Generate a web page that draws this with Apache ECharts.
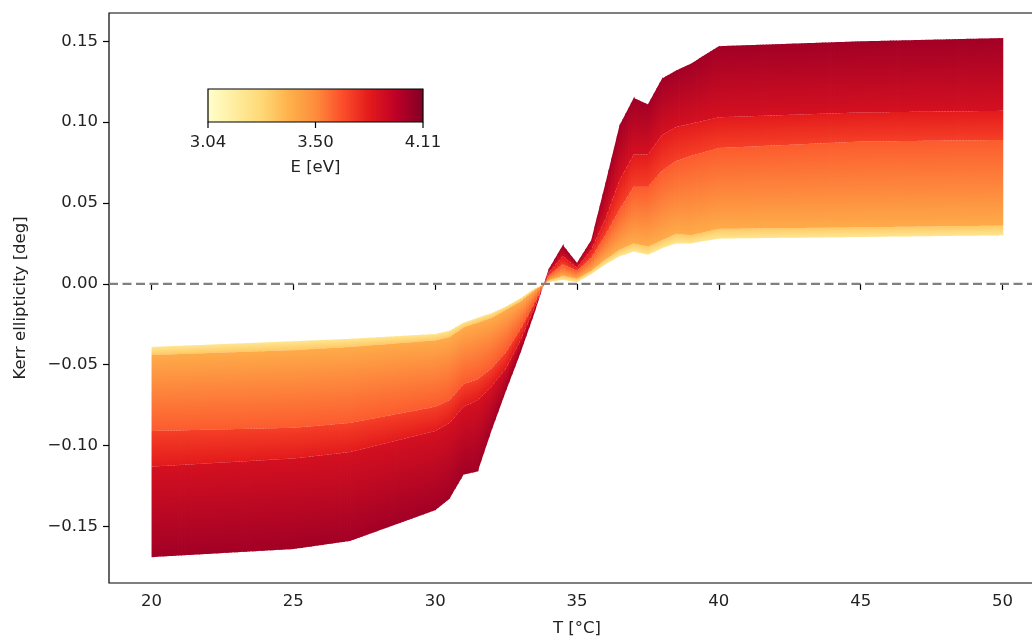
<!DOCTYPE html>
<html>
<head>
<meta charset="utf-8">
<script src="https://cdn.jsdelivr.net/npm/echarts@6/dist/echarts.min.js"></script>
<style>
  html, body { margin: 0; padding: 0; background: #fff; }
  #main { width: 1032px; height: 640px; }
</style>
</head>
<body>
<div id="main"></div>
<script>
// temperatures [°C]
var temps = [20, 25, 27, 30, 30.5, 31, 31.5, 32, 32.5, 33, 33.5, 34, 34.5, 35, 35.5, 36, 36.5, 37, 37.5, 38, 38.5, 39, 40, 45, 50];

// Kerr ellipticity [deg], band edges from low energy (yellow) to high energy (dark red)
var edgeLow    = [-0.039, -0.0355, -0.034, -0.031, -0.029, -0.024, -0.021, -0.018, -0.014, -0.009, -0.003, 0.001, 0.0025, 0.001, 0.006, 0.012, 0.017, 0.020, 0.018, 0.022, 0.025, 0.025, 0.028, 0.029, 0.030];
var edgeYellow = [-0.044, -0.041, -0.039, -0.035, -0.033, -0.027, -0.024, -0.021, -0.016, -0.011, -0.004, 0.002, 0.005, 0.003, 0.008, 0.015, 0.021, 0.025, 0.023, 0.027, 0.031, 0.030, 0.034, 0.035, 0.036];
var edgeOrange = [-0.091, -0.089, -0.086, -0.076, -0.072, -0.062, -0.059, -0.052, -0.042, -0.028, -0.012, 0.005, 0.012, 0.008, 0.016, 0.030, 0.046, 0.060, 0.060, 0.070, 0.076, 0.079, 0.084, 0.088, 0.089];
var edgeRed    = [-0.113, -0.108, -0.104, -0.091, -0.086, -0.076, -0.072, -0.063, -0.052, -0.035, -0.015, 0.007, 0.017, 0.010, 0.021, 0.040, 0.064, 0.080, 0.080, 0.092, 0.097, 0.099, 0.103, 0.106, 0.107];
var edgeHigh   = [-0.169, -0.164, -0.159, -0.140, -0.133, -0.118, -0.116, -0.090, -0.066, -0.043, -0.018, 0.009, 0.024, 0.013, 0.027, 0.062, 0.098, 0.115, 0.111, 0.127, 0.132, 0.136, 0.147, 0.150, 0.152];

var xTicks = [20, 25, 30, 35, 40, 45, 50];
var yTicks = [-0.15, -0.10, -0.05, 0, 0.05, 0.10, 0.15];
var cbarLabels = ['3.04', '3.50', '4.11'];

// YlOrRd colormap
var ylorrd = ['#ffffcc', '#ffeda0', '#fed976', '#feb24c', '#fd8d3c', '#fc4e2a', '#e31a1c', '#bd0026', '#800026'];
function cmap(t) {
    var n = ylorrd.length - 1;
    var f = Math.max(0, Math.min(1, t)) * n;
    var i = Math.min(Math.floor(f), n - 1);
    var u = f - i;
    var a = ylorrd[i], b = ylorrd[i + 1];
    var c = [1, 3, 5].map(function (k) {
        var va = parseInt(a.substr(k, 2), 16), vb = parseInt(b.substr(k, 2), 16);
        return Math.round(va + (vb - va) * u);
    });
    return 'rgb(' + c.join(',') + ')';
}

var edges = [edgeLow, edgeYellow, edgeOrange, edgeRed, edgeHigh];
// colormap position at lower / upper edge of each band
var bandColors = [[0.17, 0.30], [0.40, 0.60], [0.66, 0.75], [0.80, 0.93]];

// one item per band segment: [t0, t1, lo0, lo1, hi0, hi1, band]
var segments = [];
for (var b = 0; b < edges.length - 1; b++) {
    for (var i = 0; i < temps.length - 1; i++) {
        segments.push([temps[i], temps[i + 1], edges[b][i], edges[b][i + 1], edges[b + 1][i], edges[b + 1][i + 1], b]);
    }
}

var font = 'DejaVu Sans';
var fs = 16.5;

function lerp(p, q, f) {
    return [p[0] + (q[0] - p[0]) * f, p[1] + (q[1] - p[1]) * f];
}

var myChart = echarts.init(document.getElementById('main'));
myChart.setOption({
    animation: false,
    backgroundColor: '#fff',
    grid: {
        left: 109, top: 13, right: -13, bottom: 57,
        show: true, borderColor: '#000', borderWidth: 1.2,
        outerBoundsMode: 'none'
    },
    xAxis: {
        type: 'value', min: 18.5, max: 51.5,
        splitLine: { show: false },
        axisLine: { show: false },
        axisTick: { show: true, length: 6, lineStyle: { color: '#000', width: 1.2 }, customValues: xTicks },
        axisLabel: { color: '#222', fontFamily: font, fontSize: fs, margin: 10, customValues: xTicks }
    },
    yAxis: {
        type: 'value', min: -0.185, max: 0.1675,
        splitLine: { show: false },
        axisLine: { show: false },
        axisTick: { show: true, length: 6, lineStyle: { color: '#000', width: 1.2 }, customValues: yTicks },
        axisLabel: {
            color: '#222', fontFamily: font, fontSize: fs, margin: 11, customValues: yTicks,
            formatter: function (v) { return (v < -1e-9 ? '\u2212' : '') + Math.abs(v).toFixed(2); }
        }
    },
    series: [
        {
            type: 'custom',
            data: segments,
            encode: { x: [0, 1], y: [2, 3, 4, 5] },
            renderItem: function (params, api) {
                var lo0 = api.coord([api.value(0), api.value(2)]);
                var lo1 = api.coord([api.value(1), api.value(3)]);
                var hi0 = api.coord([api.value(0), api.value(4)]);
                var hi1 = api.coord([api.value(1), api.value(5)]);
                var band = api.value(6);
                var cLo = cmap(bandColors[band][0]);
                var cHi = cmap(bandColors[band][1]);
                // draw the segment in thin, slightly overlapping vertical slices
                // so the colour gradient runs smoothly without seams
                var w = Math.abs(lo1[0] - lo0[0]);
                var n = Math.max(1, Math.ceil(w / 3));
                var over = 0.8 / Math.max(w, 1);
                var children = [];
                for (var k = 0; k < n; k++) {
                    var f0 = k / n, f1 = Math.min(1 + over, (k + 1) / n + over);
                    var a0 = lerp(lo0, lo1, f0), a1 = lerp(lo0, lo1, f1);
                    var b0 = lerp(hi0, hi1, f0), b1 = lerp(hi0, hi1, f1);
                    var mx = (a0[0] + a1[0]) / 2;
                    var yl = (a0[1] + a1[1]) / 2;
                    var yh = (b0[1] + b1[1]) / 2;
                    if (Math.abs(yh - yl) < 0.5) yh = yl + (yh >= yl ? 0.5 : -0.5);
                    children.push({
                        type: 'polygon',
                        shape: { points: [a0, a1, b1, b0] },
                        style: {
                            fill: {
                                type: 'linear', x: mx, y: yl, x2: mx, y2: yh, global: true,
                                colorStops: [{ offset: 0, color: cLo }, { offset: 1, color: cHi }]
                            }
                        }
                    });
                }
                return { type: 'group', children: children };
            },
            z: 2
        },
        {
            type: 'line',
            data: [[18.5, 0], [51.5, 0]],
            symbol: 'none',
            lineStyle: { color: '#808080', width: 2.3, type: [9, 4.5] },
            z: 5
        }
    ],
    graphic: [
        {
            type: 'text', x: 21, y: 298, rotation: Math.PI / 2,
            style: { text: 'Kerr ellipticity [deg]', fontFamily: font, fontSize: fs, fill: '#222', align: 'center', verticalAlign: 'middle' }
        },
        {
            type: 'text', x: 577, y: 629,
            style: { text: 'T [°C]', fontFamily: font, fontSize: fs, fill: '#222', align: 'center', verticalAlign: 'middle' }
        },
        // colorbar
        {
            type: 'rect', shape: { x: 208, y: 89, width: 215, height: 33 },
            style: {
                fill: new echarts.graphic.LinearGradient(0, 0, 1, 0, ylorrd.map(function (c, k) {
                    return { offset: k / (ylorrd.length - 1), color: c };
                })),
                stroke: '#000', lineWidth: 1.2
            },
            z: 10
        },
        { type: 'line', shape: { x1: 208, y1: 122, x2: 208, y2: 128 }, style: { stroke: '#000', lineWidth: 1.2 }, z: 10 },
        { type: 'line', shape: { x1: 315.5, y1: 122, x2: 315.5, y2: 128 }, style: { stroke: '#000', lineWidth: 1.2 }, z: 10 },
        { type: 'line', shape: { x1: 423, y1: 122, x2: 423, y2: 128 }, style: { stroke: '#000', lineWidth: 1.2 }, z: 10 },
        { type: 'text', x: 208, y: 143, style: { text: cbarLabels[0], fontFamily: font, fontSize: fs, fill: '#222', align: 'center', verticalAlign: 'middle' }, z: 10 },
        { type: 'text', x: 315.5, y: 143, style: { text: cbarLabels[1], fontFamily: font, fontSize: fs, fill: '#222', align: 'center', verticalAlign: 'middle' }, z: 10 },
        { type: 'text', x: 423, y: 143, style: { text: cbarLabels[2], fontFamily: font, fontSize: fs, fill: '#222', align: 'center', verticalAlign: 'middle' }, z: 10 },
        { type: 'text', x: 315.5, y: 168, style: { text: 'E [eV]', fontFamily: font, fontSize: fs, fill: '#222', align: 'center', verticalAlign: 'middle' }, z: 10 }
    ]
});
</script>
</body>
</html>
